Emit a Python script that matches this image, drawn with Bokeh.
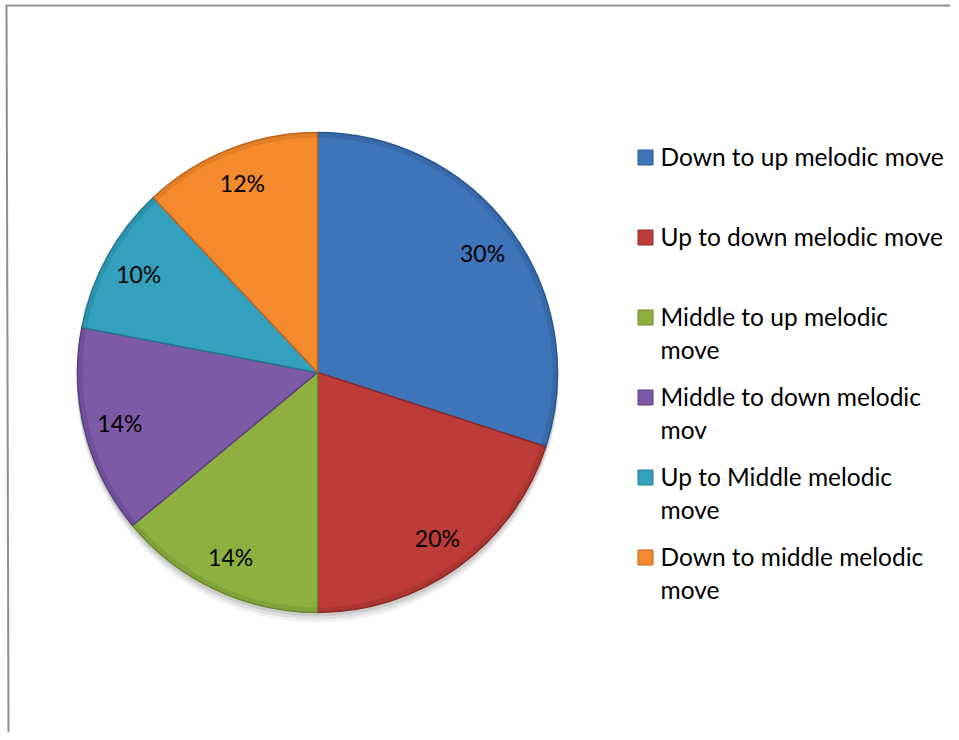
import math
from bokeh.plotting import figure
from bokeh.models import Range1d, ColumnDataSource
from bokeh.core.properties import value
from bokeh.embed import file_html
from bokeh.resources import INLINE

categories = ["Down to up melodic move", "Up to down melodic move",
              "Middle to up melodic move", "Middle to down melodic mov",
              "Up to Middle melodic move", "Down to middle melodic move"]
legend_line1 = ["Down to up melodic move", "Up to down melodic move",
                "Middle to up melodic", "Middle to down melodic",
                "Up to Middle melodic", "Down to middle melodic"]
legend_line2 = ["", "", "move", "mov", "move", "move"]
percents = [30, 20, 14, 14, 10, 12]
colors = ["#3E74BA", "#BD3C3A", "#8DB040", "#7C5AA5", "#33A1BD", "#F5892E"]
edge_colors = ["#2A5690", "#8E2A28", "#6A8A2C", "#5A3F80", "#227A90", "#C0661C"]

W, H = 950, 732
FONT = "Lato"

p = figure(width=W, height=H, output_backend="svg", toolbar_location=None,
           x_range=Range1d(0, W), y_range=Range1d(-H, 0),
           min_border=0)
p.axis.visible = False
p.grid.visible = False
p.outline_line_color = None
p.background_fill_color = "white"
p.border_fill_color = "white"

cx, cy, r = 317, -372, 240

# frame lines (top and left)
p.line([5, W], [-5, -5], line_color="#8f8f8f", line_width=2)
p.line([6, 8], [-5, -H], line_color="#8f8f8f", line_width=2)

# soft shadow
for off, a in [(9, 0.05), (6, 0.07), (3, 0.09)]:
    p.circle(x=[cx], y=[cy - off], radius=r + 1, fill_color="#000000",
             fill_alpha=a, line_color=None)

total = sum(percents)
starts, ends, mids = [], [], []
acc = 0.0
for v in percents:
    a0 = math.pi / 2 - 2 * math.pi * acc / total
    acc += v
    a1 = math.pi / 2 - 2 * math.pi * acc / total
    starts.append(a0)
    ends.append(a1)
    mids.append((a0 + a1) / 2)

src = ColumnDataSource(dict(start=starts, end=ends, color=colors, edge=edge_colors))
p.wedge(x=cx, y=cy, radius=r, start_angle="start", end_angle="end",
        direction="clock", fill_color="color", line_color="edge",
        line_width=1.5, source=src)
# bevel darkening at rim
p.annular_wedge(x=cx, y=cy, inner_radius=r - 5, outer_radius=r,
                start_angle="start", end_angle="end", direction="clock",
                fill_color="edge", fill_alpha=0.35, line_color=None, source=src)

lab_r = 0.85 * r
lx = [cx + lab_r * math.cos(m) for m in mids]
ly = [cy + lab_r * math.sin(m) for m in mids]
ltext = [f"{v}%" for v in percents]
p.text(x=lx, y=ly, text=ltext, text_font=value(FONT), text_font_size="23px",
       text_color="#000000", text_align="center", text_baseline="middle")

# legend
sq_x = 645
tx = 660
n = len(categories)
row_y = [-(157 + 80 * i) for i in range(n)]
p.scatter(x=[sq_x] * n, y=row_y, size=15, marker="square",
          fill_color=colors, line_color=edge_colors, line_width=1)
p.text(x=[tx] * n, y=[y + 1 for y in row_y], text=legend_line1,
       text_font=value(FONT), text_font_size="24.5px", text_color="#000000",
       text_align="left", text_baseline="middle")
p.text(x=[tx] * n, y=[y - 32 for y in row_y], text=legend_line2,
       text_font=value(FONT), text_font_size="24.5px", text_color="#000000",
       text_align="left", text_baseline="middle")

open("out.html", "w").write(file_html(p, INLINE))
